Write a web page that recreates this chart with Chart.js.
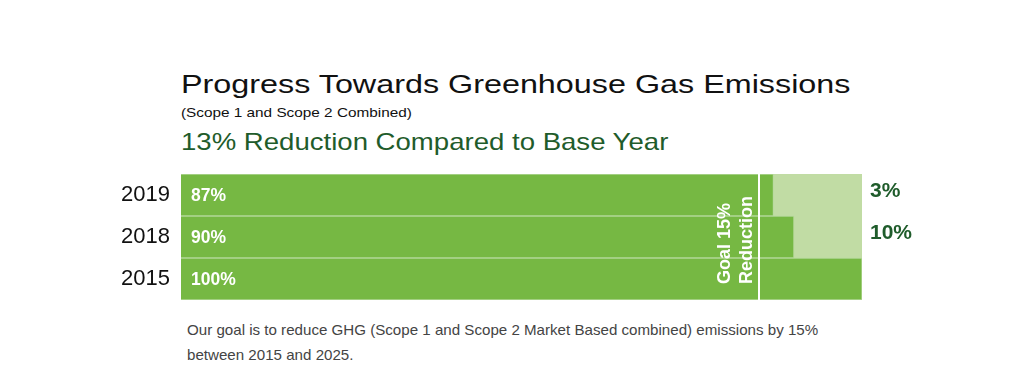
<!DOCTYPE html>
<html>
<head>
<meta charset="utf-8">
<script src="https://cdn.jsdelivr.net/npm/chart.js@4.4.1/dist/chart.umd.min.js"></script>
<style>
  body { margin: 0; background: #fff; font-family: 'Liberation Sans', Arial, sans-serif; }
  #wrap { position: relative; width: 1011px; height: 373px; overflow: hidden; }
  .txt { position: absolute; white-space: nowrap; line-height: 1; transform-origin: 0 0; display: inline-block; }
  #title { left: 181px; top: 71px; font-size: 26px; color: #111; }
  #sub { left: 181px; top: 106px; font-size: 13px; color: #111; }
  #headline { left: 181px; top: 130px; font-size: 24px; color: #1f5c2b; }
  .note { left: 187px; font-size: 15px; color: #444; }
  #note1 { top: 322px; }
  #note2 { top: 347px; }
  #box { position: absolute; left: 0; top: 160px; width: 1011px; height: 151px; }
</style>
</head>
<body>
<div id="wrap">
  <span class="txt" id="title">Progress Towards Greenhouse Gas Emissions</span>
  <span class="txt" id="sub">(Scope 1 and Scope 2 Combined)</span>
  <span class="txt" id="headline">13% Reduction Compared to Base Year</span>
  <div id="box"><canvas id="chart"></canvas></div>
  <span class="txt note" id="note1">Our goal is to reduce GHG (Scope 1 and Scope 2 Market Based combined) emissions by 15%</span>
  <span class="txt note" id="note2">between 2015 and 2025.</span>
</div>
<script>
// data
const years = ['2019', '2018', '2015'];
const emissions = [87, 90, 100];          // % of base year
const remaining = [13, 10, 0];            // gap up to base year
const sideLabels = ['3%', '10%', ''];
const goalValue = 85;
const goalLines = ['Goal 15%', 'Reduction'];

// stretch the html text to the widths seen in the picture
const widths = { title: 670, sub: 231, headline: 487, note1: 631 };
Object.keys(widths).forEach(id => {
    const el = document.getElementById(id);
    el.style.transform = 'scaleX(' + (widths[id] / el.offsetWidth) + ')';
});
document.getElementById('note2').style.transform = document.getElementById('note1').style.transform;

const darkGreen = '#76b843';
const lightGreen = '#c1dca4';

const labelsPlugin = {
    id: 'labels',
    afterDatasetsDraw(chart) {
        const ctx = chart.ctx;
        const area = chart.chartArea;
        const x = chart.scales.x;
        const bars = chart.getDatasetMeta(0).data;
        ctx.save();

        // values inside the bars
        ctx.fillStyle = '#fff';
        ctx.font = 'bold 17.5px "Liberation Sans", Arial, sans-serif';
        ctx.textBaseline = 'middle';
        ctx.textAlign = 'left';
        bars.forEach((bar, i) => {
            ctx.fillText(emissions[i] + '%', area.left + 10, bar.y + 1);
        });

        // labels right of the chart
        ctx.fillStyle = '#1f5c2b';
        ctx.font = 'bold 21px "Liberation Sans", Arial, sans-serif';
        bars.forEach((bar, i) => {
            ctx.fillText(sideLabels[i], area.right + 8, bar.y - 4);
        });

        // goal line
        const gx = Math.round(x.getPixelForValue(goalValue)) - 1;
        ctx.strokeStyle = '#fff';
        ctx.lineWidth = 2;
        ctx.beginPath();
        ctx.moveTo(gx, area.top);
        ctx.lineTo(gx, area.bottom);
        ctx.stroke();

        ctx.translate(gx, area.bottom - 16);
        ctx.rotate(-Math.PI / 2);
        ctx.fillStyle = '#fff';
        ctx.font = 'bold 18px "Liberation Sans", Arial, sans-serif';
        ctx.textBaseline = 'alphabetic';
        ctx.fillText(goalLines[0], 0, -29);
        ctx.fillText(goalLines[1], 0, -7);
        ctx.restore();
    }
};

new Chart(document.getElementById('chart'), {
    type: 'bar',
    data: {
        labels: years,
        datasets: [
            {
                data: emissions,
                backgroundColor: darkGreen,
                borderColor: '#b3d797',
                borderWidth: { top: 1, bottom: 1, right: 1, left: 0 },
                borderSkipped: false,
                barPercentage: 1,
                categoryPercentage: 1
            },
            {
                data: remaining,
                backgroundColor: lightGreen,
                borderWidth: 0,
                barPercentage: 1,
                categoryPercentage: 1
            }
        ]
    },
    options: {
        indexAxis: 'y',
        responsive: true,
        maintainAspectRatio: false,
        animation: false,
        layout: { padding: { top: 14, bottom: 11, left: 0, right: 149 } },
        plugins: {
            legend: { display: false },
            tooltip: { enabled: false }
        },
        scales: {
            x: { stacked: true, min: 0, max: 100, display: false },
            y: {
                stacked: true,
                grid: { display: false, drawTicks: false },
                border: { display: false },
                ticks: {
                    color: '#111',
                    padding: 11,
                    font: { family: '"Liberation Sans", Arial, sans-serif', size: 22 }
                },
                afterFit(scale) {
                    scale.width = 181;
                    scale.paddingTop = 0;
                    scale.paddingBottom = 0;
                }
            }
        }
    },
    plugins: [labelsPlugin]
});
</script>
</body>
</html>
